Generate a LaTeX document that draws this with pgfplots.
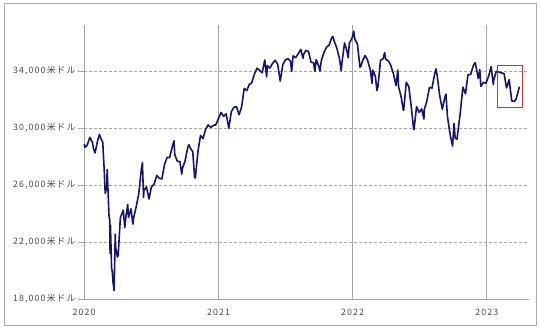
\documentclass[border=0pt]{standalone}
\usepackage{fontspec}
\setmainfont{Noto Sans CJK JP}
\newfontfamily\tickfont[LetterSpace=13]{Noto Sans CJK JP}
\usepackage{pgfplots}
\pgfplotsset{compat=1.18}
\usepgfplotslibrary{dateplot}
\definecolor{navy}{RGB}{22,22,105}
\definecolor{boxred}{RGB}{185,60,50}
\definecolor{gridgray}{RGB}{165,165,165}
\definecolor{framegray}{RGB}{170,170,170}
\pgfplotstableread{
date close
2020-01-02 28868
2020-01-03 28634
2020-01-08 28745
2020-01-10 28823
2020-01-17 29348
2020-01-24 28990
2020-01-27 28535
2020-01-31 28256
2020-02-07 29102
2020-02-12 29551
2020-02-14 29398
2020-02-21 28992
2020-02-25 27081
2020-02-27 25766
2020-02-28 25409
2020-03-03 25917
2020-03-04 27091
2020-03-06 25864
2020-03-09 23851
2020-03-11 23553
2020-03-12 21200
2020-03-13 23186
2020-03-16 20189
2020-03-18 19899
2020-03-20 19174
2020-03-23 18592
2020-03-26 22552
2020-03-27 21636
2020-04-01 20944
2020-04-03 21053
2020-04-09 23719
2020-04-17 24242
2020-04-21 23019
2020-04-24 23775
2020-04-29 24634
2020-05-01 23724
2020-05-08 24331
2020-05-13 23248
2020-05-15 23685
2020-05-22 24465
2020-05-29 25383
2020-06-05 27111
2020-06-08 27572
2020-06-11 25128
2020-06-12 25605
2020-06-19 25871
2020-06-26 25016
2020-07-02 25827
2020-07-10 26075
2020-07-17 26672
2020-07-24 26470
2020-07-31 26428
2020-08-07 27433
2020-08-14 27931
2020-08-21 27930
2020-08-28 28654
2020-09-02 29100
2020-09-04 28133
2020-09-11 27666
2020-09-18 27657
2020-09-23 26763
2020-09-25 27174
2020-10-02 27683
2020-10-09 28586
2020-10-12 28837
2020-10-16 28606
2020-10-23 28335
2020-10-28 26520
2020-10-30 26502
2020-11-06 28323
2020-11-13 29479
2020-11-20 29263
2020-11-27 29910
2020-12-04 30218
2020-12-11 30046
2020-12-18 30179
2020-12-21 30216
2020-12-24 30200
2020-12-31 30606
2021-01-08 31098
2021-01-15 30814
2021-01-22 30997
2021-01-29 29983
2021-02-05 31148
2021-02-12 31458
2021-02-19 31494
2021-02-26 30932
2021-03-05 31496
2021-03-12 32779
2021-03-19 32628
2021-03-26 33073
2021-04-01 33153
2021-04-09 33801
2021-04-16 34200
2021-04-23 34043
2021-04-30 33875
2021-05-07 34778
2021-05-12 33587
2021-05-14 34382
2021-05-21 34208
2021-05-28 34529
2021-06-04 34756
2021-06-11 34480
2021-06-18 33290
2021-06-25 34434
2021-07-02 34786
2021-07-09 34870
2021-07-16 34688
2021-07-19 33962
2021-07-23 35061
2021-07-30 34935
2021-08-06 35209
2021-08-13 35515
2021-08-19 34894
2021-08-20 35120
2021-08-27 35456
2021-09-03 35369
2021-09-10 34608
2021-09-17 34584
2021-09-20 33970
2021-09-24 34798
2021-10-01 34326
2021-10-04 34002
2021-10-08 34746
2021-10-15 35295
2021-10-22 35677
2021-10-29 35820
2021-11-05 36328
2021-11-08 36432
2021-11-12 36100
2021-11-19 35601
2021-11-26 34899
2021-12-01 34022
2021-12-03 34580
2021-12-10 35971
2021-12-17 35365
2021-12-20 34932
2021-12-23 35950
2021-12-31 36338
2022-01-04 36800
2022-01-07 36231
2022-01-14 35912
2022-01-21 34265
2022-01-24 34365
2022-01-28 34725
2022-02-04 35089
2022-02-11 34738
2022-02-18 34079
2022-02-23 33131
2022-02-25 34058
2022-03-04 33615
2022-03-08 32632
2022-03-11 32944
2022-03-18 34755
2022-03-25 34861
2022-03-29 35294
2022-04-01 34818
2022-04-08 34721
2022-04-14 34451
2022-04-22 33811
2022-04-29 32977
2022-05-04 34061
2022-05-06 32899
2022-05-13 32196
2022-05-19 31253
2022-05-20 31262
2022-05-27 33213
2022-06-03 32900
2022-06-10 31393
2022-06-16 29927
2022-06-17 29888
2022-06-24 31501
2022-07-01 31097
2022-07-08 31338
2022-07-14 30630
2022-07-15 31289
2022-07-22 31899
2022-07-29 32845
2022-08-05 32803
2022-08-12 33761
2022-08-16 34152
2022-08-19 33707
2022-08-26 32283
2022-09-02 31318
2022-09-09 32151
2022-09-12 32381
2022-09-16 30822
2022-09-23 29590
2022-09-30 28726
2022-10-04 30316
2022-10-07 29297
2022-10-12 29210
2022-10-14 29635
2022-10-21 31082
2022-10-28 32861
2022-11-04 32403
2022-11-11 33748
2022-11-18 33746
2022-11-25 34347
2022-11-30 34590
2022-12-02 34430
2022-12-09 33477
2022-12-13 34108
2022-12-16 32920
2022-12-23 33204
2022-12-30 33147
2023-01-06 33631
2023-01-13 34303
2023-01-19 33045
2023-01-20 33375
2023-01-27 33978
2023-02-03 33926
2023-02-10 33869
2023-02-17 33827
2023-02-24 32817
2023-03-03 33391
2023-03-10 31910
2023-03-15 31875
2023-03-17 31862
2023-03-22 32030
2023-03-24 32238
2023-03-29 32717
2023-03-31 32900
}\dowdata
\begin{document}
\begin{tikzpicture}[x=1pt,y=1pt]
\useasboundingbox (-84,-32) rectangle (456,299);
\draw[framegray, line width=1pt] (-79,-27) rectangle (452,295);
\begin{axis}[
  at={(0,0)}, anchor=south west,
  scale only axis, width=445pt, height=274pt,
  date coordinates in=x,
  xmin=2020-01-01, xmax=2023-04-26,
  ymin=18000, ymax=37230,
  scaled y ticks=false,
  axis x line=bottom, axis y line=left,
  axis line style={draw=gridgray, line width=0.8pt, -},
  xtick={2020-01-01,2021-01-01,2022-01-01,2023-01-01},
  xticklabels={2020,2021,2022,2023},
  ytick={18000,22000,26000,30000,34000},
  yticklabels={{18,000米ドル},{22,000米ドル},{26,000米ドル},{30,000米ドル},{34,000米ドル}},
  xmajorgrids, ymajorgrids,
  x grid style={solid, draw=gridgray, line width=0.8pt},
  y grid style={densely dashed, draw=gridgray, line width=0.5pt},
  xtick style={draw=none},
  ytick style={draw=gridgray},
  tick align=outside, major tick length=6pt,
  ticklabel style={font=\tickfont\fontsize{8.8}{9}\selectfont, text=black!72},
  yticklabel style={xshift=1pt},
  xticklabel style={yshift=-1pt},
  clip=false,
]
\addplot[navy, line width=1.6pt, line join=round] table[x=date, y=close] {\dowdata};
\addplot[boxred, line width=0.8pt] coordinates {(2023-01-30,34420) (2023-04-08,34420) (2023-04-08,31474) (2023-01-30,31474) (2023-01-30,34420)};
\end{axis}
\end{tikzpicture}
\end{document}
